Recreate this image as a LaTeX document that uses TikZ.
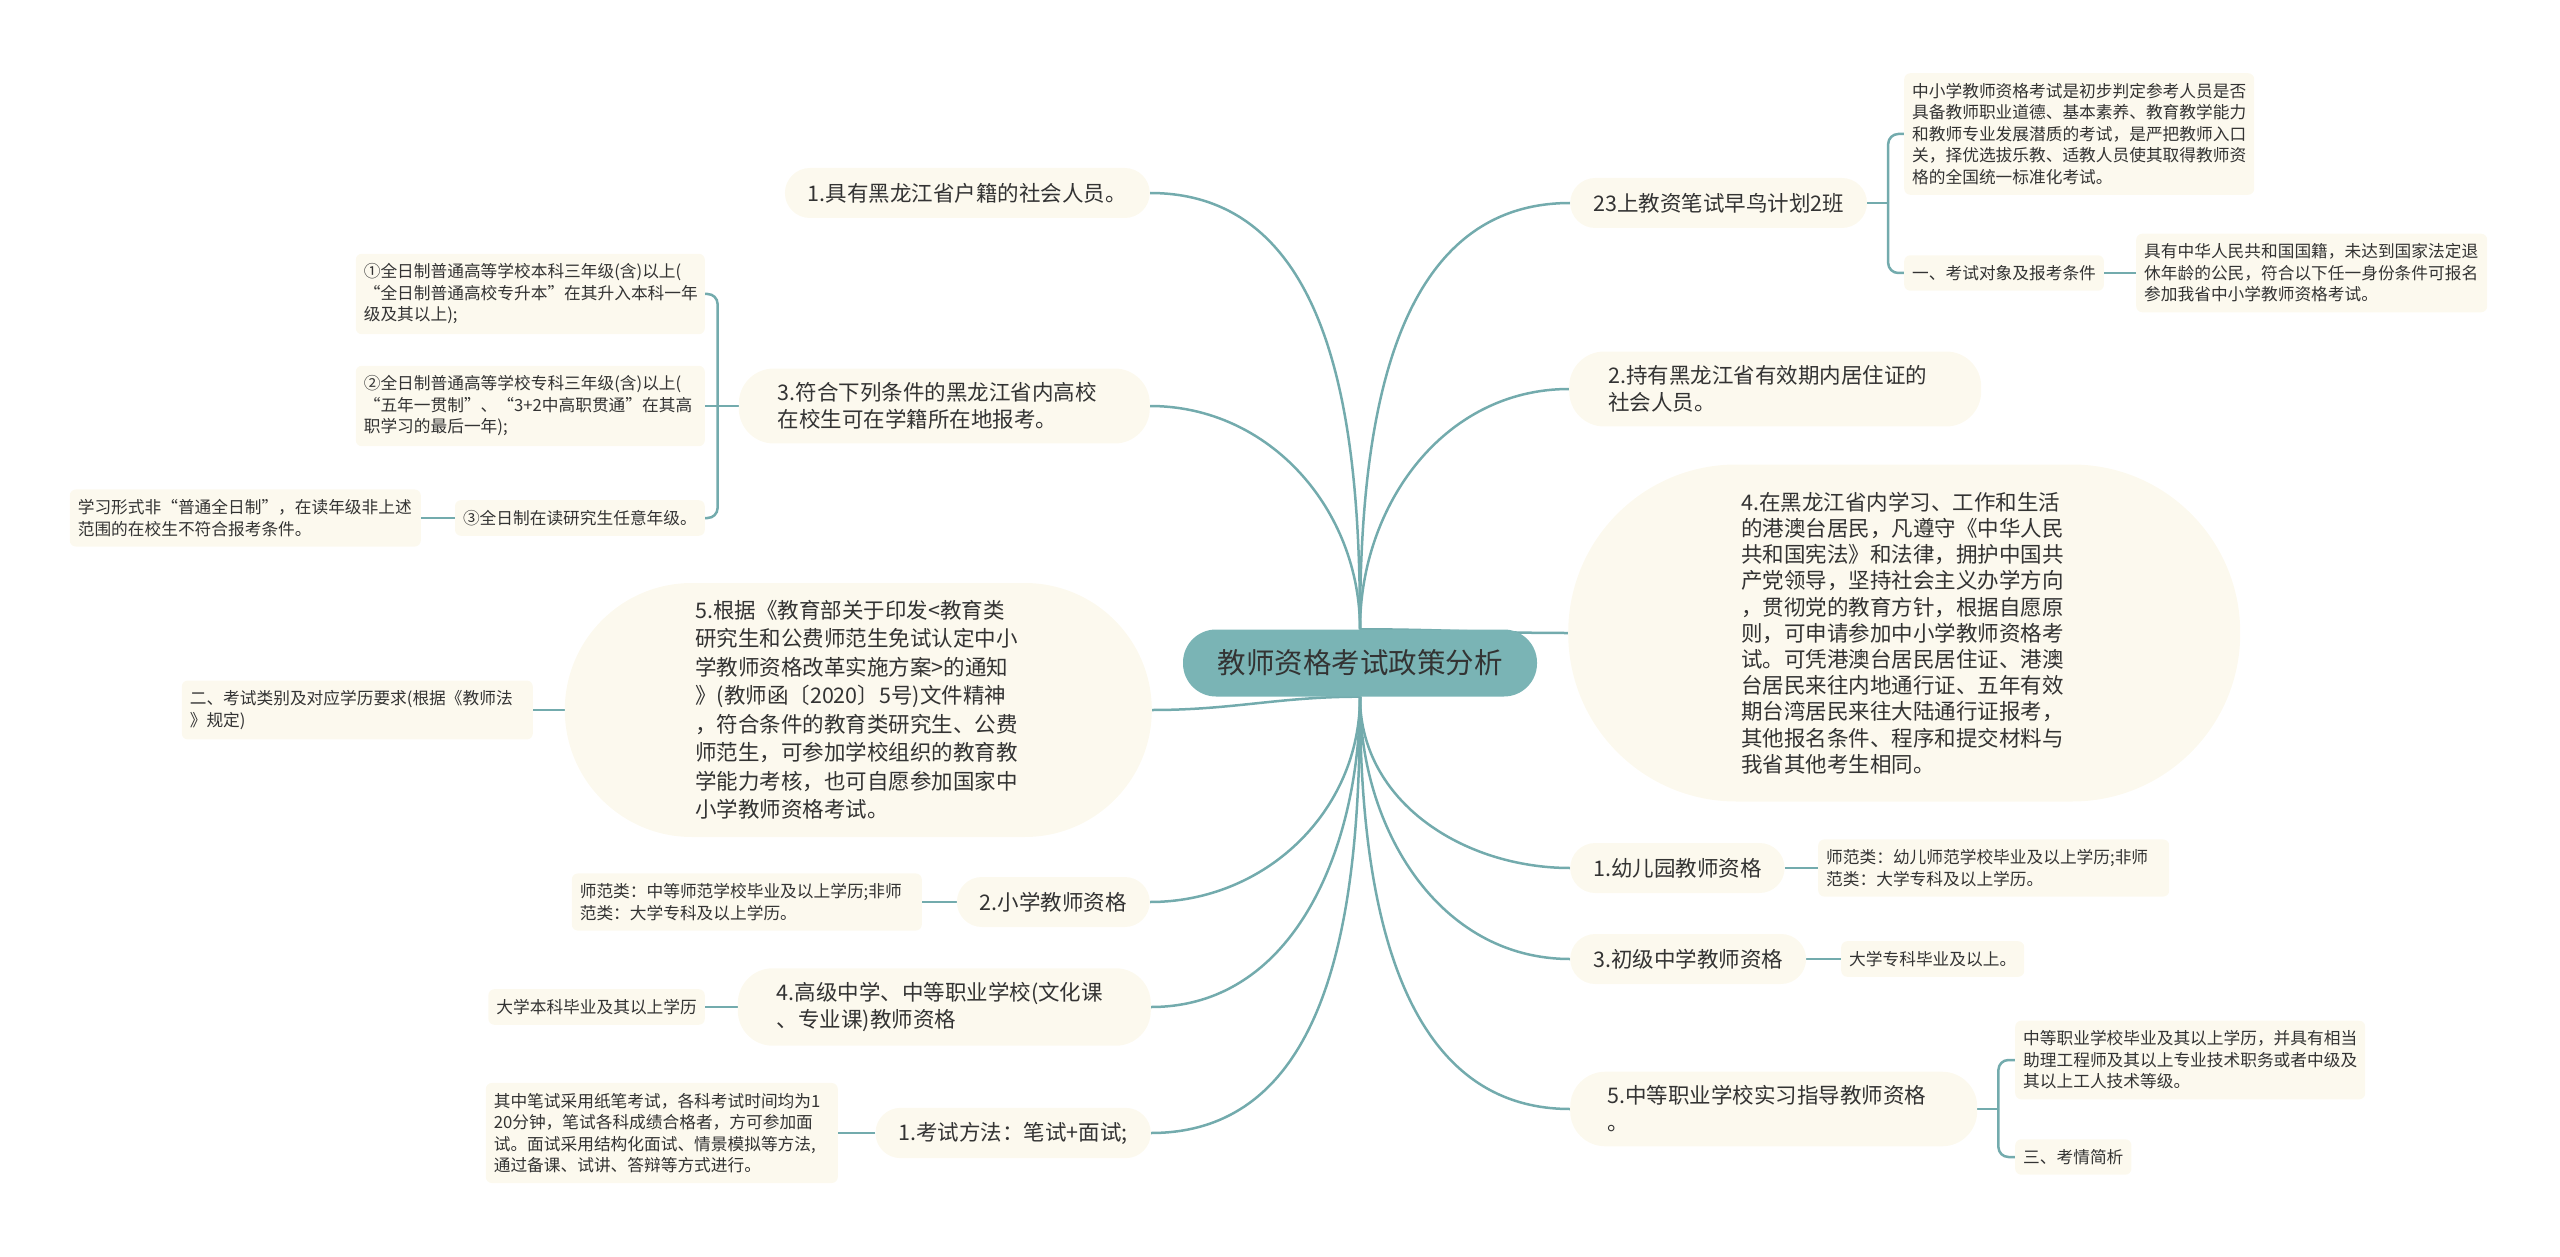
\documentclass[tikz,border=0pt]{standalone}
\usepackage{fontspec}
\setmainfont{Noto Sans CJK SC}
\usetikzlibrary{backgrounds}

\definecolor{mmteal}{HTML}{7AB4B5}
\definecolor{mmline}{HTML}{73ABAD}
\definecolor{mmcream}{HTML}{FCF9EE}
\definecolor{mmtext}{HTML}{333333}
\newcommand\rootfont{\fontsize{28.5}{34}\selectfont}
\newcommand\topicfont{\fontsize{21.5}{27}\selectfont}
\newcommand\leaffont{\fontsize{16.7}{21.5}\selectfont}

\begin{document}
\begin{tikzpicture}[x=1pt, y=-1pt,
    rootbox/.style={fill=mmteal, rounded corners=33pt, minimum width=354pt, minimum height=67pt, font=\rootfont, text=mmtext},
    topicbox/.style={fill=mmcream, rounded corners=25pt, inner xsep=23pt, inner ysep=14pt, minimum height=50pt, font=\topicfont, text=mmtext, align=left},
    bigbox/.style={fill=mmcream, text=mmtext, align=left, text width=326pt},
    leafbox/.style={fill=mmcream, rounded corners=6pt, inner xsep=8pt, inner ysep=10pt, font=\leaffont, text=mmtext, align=left},
    linkline/.style={draw=mmline, line width=2.5pt}]
        \useasboundingbox (0,0) rectangle (2560,1257);
        \node[rootbox] (root) at (1360,663) {教师资格考试政策分析};

        % left side
        \node[topicbox, anchor=east] (hukou) at (1150,193) {1.具有黑龙江省户籍的社会人员。};
        \node[topicbox, anchor=east, text width=333pt, inner xsep=39pt, rounded corners=35pt] (gaoxiao) at (1150,406) {3.符合下列条件的黑龙江省内高校\\在校生可在学籍所在地报考。};
        \node[bigbox, anchor=east, minimum width=587pt, minimum height=254pt, rounded corners=127pt, font={\fontsize{21.5}{28.5}\selectfont}] (mianshi) at (1152,710) {5.根据《教育部关于印发<教育类\\研究生和公费师范生免试认定中小\\学教师资格改革实施方案>的通知\\》(教师函〔2020〕5号)文件精神\\，符合条件的教育类研究生、公费\\师范生，可参加学校组织的教育教\\学能力考核，也可自愿参加国家中\\小学教师资格考试。};
        \node[topicbox, anchor=east] (xiaoxue) at (1150,902) {2.小学教师资格};
        \node[topicbox, anchor=east, text width=335pt, inner xsep=39pt, rounded corners=35pt] (gaozhong) at (1151,1007) {4.高级中学、中等职业学校(文化课\\、专业课)教师资格};
        \node[topicbox, anchor=east] (fangfa) at (1151,1133) {1.考试方法：笔试+面试;};

        \node[leafbox, anchor=east, text width=333pt] (q1) at (705,294) {①全日制普通高等学校本科三年级(含)以上(\\“全日制普通高校专升本”在其升入本科一年\\级及其以上);};
        \node[leafbox, anchor=east, text width=333pt] (q2) at (705,406) {②全日制普通高等学校专科三年级(含)以上(\\“五年一贯制”、“3+2中高职贯通”在其高\\职学习的最后一年);};
        \node[leafbox, anchor=east] (q3) at (705,518) {③全日制在读研究生任意年级。};
        \node[leafbox, anchor=east, text width=335pt] (q3note) at (421,518) {学习形式非“普通全日制”，在读年级非上述\\范围的在校生不符合报考条件。};
        \node[leafbox, anchor=east, text width=335pt] (leibie) at (533,710) {二、考试类别及对应学历要求(根据《教师法\\》规定)};
        \node[leafbox, anchor=east, text width=334pt] (xiaoxuenote) at (922,902) {师范类：中等师范学校毕业及以上学历;非师\\范类：大学专科及以上学历。};
        \node[leafbox, anchor=east] (gaozhongnote) at (705,1007) {大学本科毕业及其以上学历};
        \node[leafbox, anchor=east, text width=336pt] (fangfanote) at (838,1133) {其中笔试采用纸笔考试，各科考试时间均为1\\20分钟，笔试各科成绩合格者，方可参加面\\试。面试采用结构化面试、情景模拟等方法,\\通过备课、试讲、答辩等方式进行。};

        % right side
        \node[topicbox, anchor=west] (zaoniao) at (1570,203) {23上教资笔试早鸟计划2班};
        \node[topicbox, anchor=west, text width=334pt, inner xsep=39pt, rounded corners=35pt] (juzhu) at (1569,389) {2.持有黑龙江省有效期内居住证的\\社会人员。};
        \node[bigbox, anchor=west, minimum width=672pt, minimum height=337pt, rounded corners=168pt, font={\fontsize{21.5}{26.2}\selectfont}] (gangao) at (1568,633) {4.在黑龙江省内学习、工作和生活\\的港澳台居民，凡遵守《中华人民\\共和国宪法》和法律，拥护中国共\\产党领导，坚持社会主义办学方向\\，贯彻党的教育方针，根据自愿原\\则，可申请参加中小学教师资格考\\试。可凭港澳台居民居住证、港澳\\台居民来往内地通行证、五年有效\\期台湾居民来往大陆通行证报考，\\其他报名条件、程序和提交材料与\\我省其他考生相同。};
        \node[topicbox, anchor=west] (youer) at (1570,868) {1.幼儿园教师资格};
        \node[topicbox, anchor=west] (chuzhong) at (1570,959) {3.初级中学教师资格};
        \node[topicbox, anchor=west, text width=333pt, inner xsep=37pt, rounded corners=35pt] (shixi) at (1570,1109) {5.中等职业学校实习指导教师资格\\。};

        \node[leafbox, anchor=west, text width=334pt] (jieshao) at (1904,134) {中小学教师资格考试是初步判定参考人员是否\\具备教师职业道德、基本素养、教育教学能力\\和教师专业发展潜质的考试，是严把教师入口\\关，择优选拔乐教、适教人员使其取得教师资\\格的全国统一标准化考试。};
        \node[leafbox, anchor=west] (duixiang) at (1904,273) {一、考试对象及报考条件};
        \node[leafbox, anchor=west, text width=335pt] (tiaojian) at (2136,273) {具有中华人民共和国国籍，未达到国家法定退\\休年龄的公民，符合以下任一身份条件可报名\\参加我省中小学教师资格考试。};
        \node[leafbox, anchor=west, text width=335pt] (youernote) at (1818,868) {师范类：幼儿师范学校毕业及以上学历;非师\\范类：大学专科及以上学历。};
        \node[leafbox, anchor=west] (chuzhongnote) at (1841,959) {大学专科毕业及以上。};
        \node[leafbox, anchor=west, text width=334pt] (shixinote) at (2015,1060) {中等职业学校毕业及其以上学历，并具有相当\\助理工程师及其以上专业技术职务或者中级及\\其以上工人技术等级。};
        \node[leafbox, anchor=west] (kaoqing) at (2015,1157) {三、考情简析};

        \begin{pgfonlayer}{background}
        \draw[linkline] (root.north) to[out=90,in=0] (hukou.east);
        \draw[linkline] (root.north) to[out=90,in=0] (gaoxiao.east);
        \draw[linkline] (root.south) to[out=180,in=0] (mianshi.east);
        \draw[linkline] (root.south) to[out=-90,in=0] (xiaoxue.east);
        \draw[linkline] (root.south) to[out=-90,in=0] (gaozhong.east);
        \draw[linkline] (root.south) to[out=-90,in=0] (fangfa.east);
        \draw[linkline] (root.north) to[out=90,in=180] (zaoniao.west);
        \draw[linkline] (root.north) to[out=90,in=180] (juzhu.west);
        \draw[linkline] (root.north) to[out=0,in=180] (gangao.west);
        \draw[linkline] (root.south) to[out=-90,in=180] (youer.west);
        \draw[linkline] (root.south) to[out=-90,in=180] (chuzhong.west);
        \draw[linkline] (root.south) to[out=-90,in=180] (shixi.west);

        \draw[linkline] (gaoxiao.west) -- ++(-21,0) coordinate (gaoxiaofork);
        \draw[linkline, rounded corners=10pt] (gaoxiaofork) |- (q1.east);
        \draw[linkline] (gaoxiaofork) -- (q2.east);
        \draw[linkline, rounded corners=10pt] (gaoxiaofork) |- (q3.east);
        \draw[linkline] (q3.west) -- (q3note.east);
        \draw[linkline] (mianshi.west) -- (leibie.east);
        \draw[linkline] (xiaoxue.west) -- (xiaoxuenote.east);
        \draw[linkline] (gaozhong.west) -- (gaozhongnote.east);
        \draw[linkline] (fangfa.west) -- (fangfanote.east);

        \draw[linkline] (zaoniao.east) -- ++(21,0) coordinate (zaoniaofork);
        \draw[linkline, rounded corners=10pt] (zaoniaofork) |- (jieshao.west);
        \draw[linkline, rounded corners=10pt] (zaoniaofork) |- (duixiang.west);
        \draw[linkline] (duixiang.east) -- (tiaojian.west);
        \draw[linkline] (youer.east) -- (youernote.west);
        \draw[linkline] (chuzhong.east) -- (chuzhongnote.west);
        \draw[linkline] (shixi.east) -- ++(21,0) coordinate (shixifork);
        \draw[linkline, rounded corners=10pt] (shixifork) |- (shixinote.west);
        \draw[linkline, rounded corners=10pt] (shixifork) |- (kaoqing.west);
        \end{pgfonlayer}
\end{tikzpicture}
\end{document}
